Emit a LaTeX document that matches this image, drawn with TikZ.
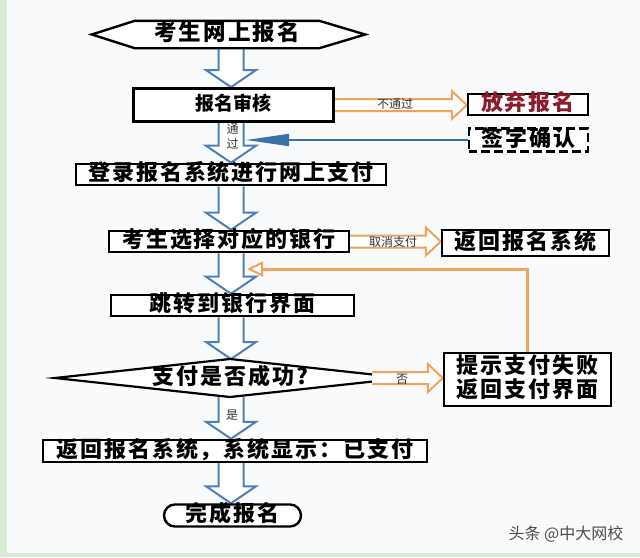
\documentclass[tikz,border=0pt]{standalone}
\usepackage{fontspec}
\newfontfamily\cjk{Noto Sans CJK SC}
\newfontfamily\cjkw{Noto Sans CJK SC}[LetterSpace=9]
\usetikzlibrary{calc,arrows.meta}
\definecolor{bgc}{HTML}{F8FAFB}
\definecolor{strip}{HTML}{D5EBD3}
\definecolor{barrow}{HTML}{4F7FB8}
\definecolor{oarrow}{HTML}{F2A259}
\definecolor{darkred}{HTML}{8A1C2C}
\definecolor{linkblue}{HTML}{3A72A8}
\pgfdeclarelayer{bg}
\pgfdeclarelayer{arrows}
\pgfsetlayers{bg,arrows,main}
\tikzset{
  bigfont/.style={font=\cjkw\bfseries\fontsize{22}{24}\selectfont, text height=17pt, text depth=4.2pt},
  box/.style={bigfont, draw=black, line width=2.4pt, fill=white, inner sep=0pt, align=center},
  txt/.style={bigfont, inner sep=0pt},
  small/.style={inner sep=0pt, font=\cjk\fontsize{12}{13}\selectfont, text=black!80},
  bluefat/.style={draw=barrow, line width=2pt, fill=white, line join=miter},
  orangefat/.style={draw=oarrow, line width=2pt, fill=white, line join=miter},
  outline/.style={draw=black, line width=2.4pt, fill=white, line join=miter},
}
\newcommand\fatdown[2]{\draw[bluefat] let \p1=(#1), \p2=(#2) in
  (\x1-12.5pt,\y1) -- (\x1-12.5pt,\y2+17pt) -- (\x1-25pt,\y2+17pt) -- (\x1,\y2)
  -- (\x1+25pt,\y2+17pt) -- (\x1+12.5pt,\y2+17pt) -- (\x1+12.5pt,\y1);}
\newcommand\fatright[2]{\draw[orangefat] let \p1=(#1), \p2=(#2) in
  (\x1,\y1+6pt) -- (\x2-15pt,\y1+6pt) -- (\x2-15pt,\y1+14pt) -- (\x2,\y1)
  -- (\x2-15pt,\y1-14pt) -- (\x2-15pt,\y1-6pt) -- (\x1,\y1-6pt);}
\begin{document}
\begin{tikzpicture}[x=1pt,y=-1pt]
\useasboundingbox (0,0) rectangle (640,557);
\begin{pgfonlayer}{bg}
  \fill[bgc] (0,0) rectangle (640,557);
  \fill[strip] (0,0) rectangle (7,557);
  \fill[strip] (0,553) rectangle (640,557);
\end{pgfonlayer}

\coordinate (axis) at (231,0);

% nodes
\node[txt, font=\cjkw\bfseries\fontsize{22.5}{24}\selectfont, minimum width=184pt, minimum height=27pt] (start) at (227,34.5) {考生网上报名};
\node[box, line width=2.8pt, minimum width=200pt, minimum height=33pt,
      font=\cjk\bfseries\fontsize{19}{20}\selectfont, text height=14.5pt, text depth=3.4pt] (audit) at (233.5,105) {报名审核};
\node[box, minimum width=120pt, minimum height=21pt, text=darkred] (give) at (528,104.5) {放弃报名};
\node[box, dash pattern=on 9pt off 4pt, dash phase=1pt, line width=2.2pt, minimum width=119pt, minimum height=23pt] (sign) at (528.5,140) {签字确认};
\node[box, minimum width=310pt, minimum height=21pt] (login) at (231,174.5) {登录报名系统进行网上支付};
\node[box, minimum width=240pt, minimum height=21pt] (bank) at (229,241.5) {考生选择对应的银行};
\node[box, minimum width=167pt, minimum height=26pt] (back) at (525.5,243) {返回报名系统};
\node[box, minimum width=243pt, minimum height=21pt] (jump) at (232.5,305.5) {跳转到银行界面};
\node[txt] (dec) at (230,378) {支付是否成功?};
\node[box, minimum width=167pt, minimum height=53pt, text height=41pt, text depth=4.2pt] (fail) at (527.5,379.5) {提示支付失败\\返回支付界面};
\node[box, minimum width=384pt, minimum height=22pt] (paid) at (235,451) {返回报名系统，系统显示：已支付};
\node[box, rounded corners=11pt, minimum width=137pt, minimum height=22pt] (done) at (232.5,515.5) {完成报名};

\coordinate (dtop) at (230,359);
\coordinate (dbot) at (230,397);
\coordinate (dright) at (372,378);
\coordinate (passpt) at (246,140);
\coordinate (loopend) at (247,269);

\begin{pgfonlayer}{arrows}
  \fatdown{start.south -| axis}{audit.north -| axis}
  \fatdown{audit.south -| axis}{login.north -| axis}
  \fatdown{login.south -| axis}{bank.north -| axis}
  \fatdown{bank.south -| axis}{jump.north -| axis}
  \fatdown{jump.south -| axis}{dtop -| axis}
  \fatdown{dbot -| axis}{paid.north -| axis}
  \fatdown{paid.south -| axis}{done.north -| axis}
  % hexagon
  \draw[outline] (start.north west) -- (start.north east) -- ($(start.east)+(46pt,0)$)
     -- (start.south east) -- (start.south west) -- ($(start.west)+(-43pt,0)$) -- cycle;
  % diamond
  \draw[outline, line width=2.2pt] ($(dec)+(-175pt,0)$) -- ($(dec)+(0,19pt)$) -- ($(dec)+(175pt,0)$)
     -- ($(dec)+(0,-19pt)$) -- cycle;
  % orange block arrows
  \fatright{audit.east}{give.west}
  \fatright{bank.east}{back.west}
  \fatright{dright}{fail.west}
  % blue link
  \draw[linkblue, line width=1.6pt, -{Triangle[length=43pt,width=12pt]}] (sign.west) -- (passpt);
  % orange loop
  \draw[oarrow, line width=3pt, -{Triangle[open,fill=white,line width=2pt,length=16pt,width=15pt]}]
     (fail.north) |- (loopend);
\end{pgfonlayer}

% labels
\node[small] (lnot) at (395,104) {不通过};
\node[small] (lcancel) at (393,241.5) {取消支付};
\node[small] (lpass1) at (232.5,129) {通};
\node[small] (lpass2) at (232.5,144) {过};
\node[small] (lno) at (402,379) {否};
\node[small] (lyes) at (232,415) {是};
\node[inner sep=0pt, font=\cjk\fontsize{16}{16}\selectfont, text=black!70] (wm) at (566,534) {头条 @中大网校};
\end{tikzpicture}
\end{document}
